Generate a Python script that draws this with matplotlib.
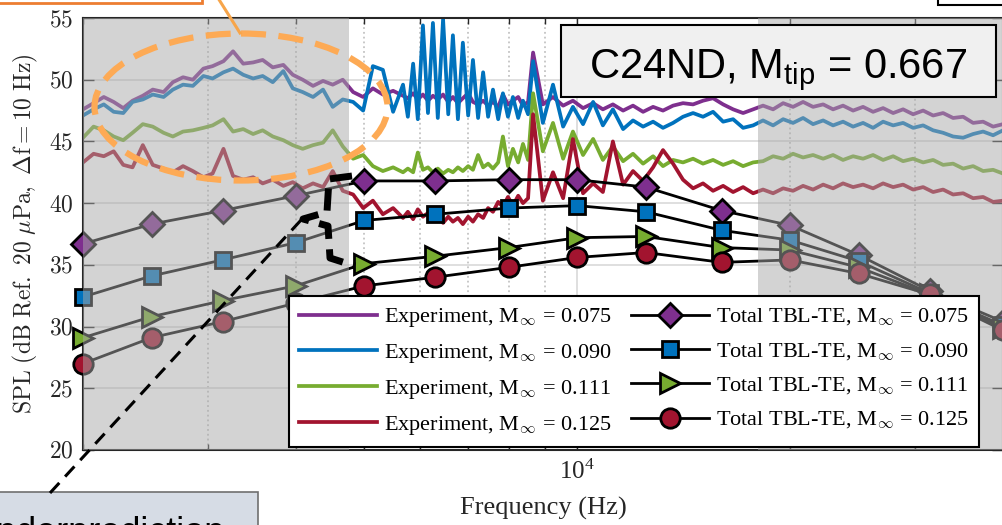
import matplotlib.pyplot as plt
from matplotlib.patches import Rectangle, Ellipse
from matplotlib.ticker import FuncFormatter, LogLocator, NullFormatter

plt.rcParams['font.family'] = ['Liberation Serif', 'DejaVu Serif']
plt.rcParams['mathtext.fontset'] = 'cm'
plt.rcParams['mathtext.rm'] = 'Liberation Sans'
plt.rcParams['mathtext.it'] = 'Liberation Sans:italic'

# measured narrowband spectra (levels in dB)
freq_hz = [2000, 2070, 2140, 2210, 2280, 2350, 2430, 2510, 2600, 2680, 2770, 2860, 2960, 3050,
           3160, 3260, 3370, 3480, 3590, 3710, 3840, 3960, 4090, 4230, 4370, 4510, 4660, 4820,
           4980, 5140, 5310, 5490, 5670,
           5760, 5860, 5950, 6050, 6150, 6250, 6350, 6460, 6570, 6670, 6780, 6890, 7010, 7120,
           7240, 7360, 7480, 7600, 7730, 7850, 7980, 8110, 8250, 8380, 8520, 8660,
           8940, 9240, 9550, 9860, 10190, 10530, 10870, 11230, 11610, 11990, 12390, 12800, 13220,
           13660, 14110, 14580, 15060, 15560, 16080, 16610, 17160, 17730, 18310, 18920, 19550,
           20190, 20860, 21550, 22270, 23000, 23760, 24550, 25360, 26200, 27070, 27970, 28890,
           29850, 30840, 31860, 32910, 34000, 35130, 36290, 37490, 38730, 40000]

exp_075 = [47.6, 48.1, 48.6, 48.2, 47.7, 48.3, 48.7, 49.2, 49.0, 49.8, 50.2, 50.0, 50.9, 51.1,
           51.5, 52.3, 51.3, 51.4, 51.6, 51.0, 51.2, 50.4, 50.0, 49.5, 49.9, 49.6, 50.0, 49.0,
           48.6, 49.3, 48.8, 49.1, 48.7,
           48.5, 48.9, 48.4, 48.8, 48.3, 48.7, 48.4, 48.8, 48.2, 48.6, 48.1, 48.5, 48.9, 48.2,
           48.0, 48.3, 47.9, 48.2, 47.8, 48.8, 48.0, 48.3, 48.6, 47.9, 48.2, 52.2,
           48.0, 48.6, 47.9, 48.3, 47.7, 48.1, 47.6, 48.0, 47.5, 47.9, 47.4, 47.8, 47.5, 47.9,
           48.1, 48.0, 48.3, 48.5, 48.0, 47.6, 47.3, 47.6,
           47.9, 47.6, 48.1, 47.8, 48.2, 47.8, 48.0, 47.6, 47.9, 47.5, 47.8, 47.4, 47.7, 47.3,
           47.6, 47.2, 47.5, 47.1, 47.3, 46.9, 47.0, 46.5, 46.6, 46.2, 46.4]
exp_090 = [47.1, 47.6, 48.0, 47.4, 47.3, 48.2, 48.4, 48.8, 48.6, 49.2, 49.6, 49.5, 50.3, 50.1,
           50.6, 50.9, 50.4, 50.1, 50.3, 49.8, 50.7, 49.3, 49.0, 48.6, 49.2, 47.8, 48.4, 48.2,
           47.5, 51.1, 50.8, 47.4, 49.6,
           47.0, 51.3, 46.8, 54.4, 47.3, 54.6, 46.9, 54.9, 47.2, 53.6, 46.8, 53.0, 47.1, 51.6,
           46.9, 50.6, 47.0, 49.2, 46.8, 48.9, 47.0, 48.6, 46.9, 48.3, 47.2, 51.5,
           46.5, 49.6, 46.2, 47.8, 46.4, 48.2, 46.3, 47.6, 46.0, 46.7, 46.2, 46.6, 46.1, 46.5,
           47.0, 47.3, 47.0, 47.4, 46.6, 46.8, 46.1, 46.3,
           46.7, 46.3, 46.8, 46.5, 46.9, 46.4, 46.7, 46.3, 46.6, 46.2, 46.5, 46.1, 46.6, 46.3,
           46.5, 46.1, 46.3, 45.9, 45.7, 45.4, 45.3, 45.6, 45.8, 45.5, 45.9]
exp_111 = [45.3, 46.2, 45.9, 45.4, 45.1, 45.7, 46.4, 46.2, 45.7, 45.4, 45.8, 45.9, 46.1, 46.3,
           46.8, 45.8, 46.0, 45.6, 45.9, 45.4, 45.1, 44.7, 44.4, 44.7, 44.9, 45.9, 44.6, 43.6,
           43.9, 43.0, 42.6, 42.9, 42.5,
           42.8, 42.5, 44.1, 42.7, 42.9, 42.5, 42.8, 42.4, 42.7, 42.5, 42.9, 42.6, 43.0, 42.7,
           43.9, 42.9, 43.2, 42.8, 43.3, 45.4, 43.0, 44.4, 43.3, 44.8, 43.5, 48.9,
           44.2, 46.5, 43.6, 45.8, 43.9, 45.2, 43.5, 44.6, 43.4, 44.0, 43.2, 43.8, 43.0, 43.5,
           43.3, 43.6, 43.2, 43.5, 43.1, 43.4, 43.0, 43.3,
           43.4, 43.8, 43.6, 44.0, 43.7, 43.9, 43.6, 43.9, 43.5, 43.8, 43.6, 43.9, 43.5, 43.8,
           43.4, 43.6, 43.3, 43.5, 43.1, 43.2, 42.8, 43.0, 42.6, 42.7, 42.4]
exp_125 = [43.3, 44.0, 43.8, 44.2, 43.1, 42.9, 44.7, 43.1, 42.8, 42.5, 43.0, 42.6, 42.1, 42.4,
           44.4, 42.2, 41.9, 42.1, 41.6, 41.9, 41.4, 41.7, 41.2, 41.6, 41.3, 42.6, 41.0, 40.7,
           39.6, 40.2, 39.1, 39.6, 38.8,
           39.3, 38.7, 39.5, 38.9, 39.2, 38.6, 39.0, 38.4, 38.9, 38.5, 38.8, 38.3, 38.9, 38.5,
           39.1, 38.8, 39.6, 39.3, 40.1, 39.7, 40.5, 39.8, 40.6, 40.0, 40.4, 47.2,
           40.2, 42.5, 40.4, 45.2, 40.8, 41.6, 40.9, 45.0, 41.5, 42.6, 41.8, 42.9, 44.3, 43.2,
           41.9, 41.2, 41.6, 41.0, 41.4, 40.9, 41.3, 40.8,
           41.1, 40.8, 41.2, 41.0, 41.4, 41.1, 41.5, 41.2, 41.6, 41.3, 41.5, 41.2, 41.6, 41.3,
           41.5, 41.1, 41.3, 40.9, 41.1, 40.7, 40.8, 40.4, 40.5, 40.1, 40.2]

# 1/3-octave TBL-TE predictions
band_hz = [2000, 2500, 3150, 4000, 5000, 6300, 8000, 10000, 12500, 16000, 20000, 25000, 31500, 40000]
tbl_075 = [36.7, 38.3, 39.4, 40.6, 41.8, 41.8, 41.9, 41.9, 41.3, 39.4, 38.2, 35.8, 32.9, 30.4]
tbl_090 = [32.4, 34.1, 35.4, 36.8, 38.6, 39.1, 39.6, 39.8, 39.3, 37.8, 37.0, 35.3, 32.7, 30.1]
tbl_111 = [29.1, 30.8, 32.1, 33.3, 35.1, 35.7, 36.4, 37.2, 37.3, 36.4, 36.2, 34.8, 32.6, 29.9]
tbl_125 = [27.0, 29.1, 30.4, 31.9, 33.3, 34.0, 34.8, 35.6, 36.0, 35.2, 35.4, 34.3, 32.6, 29.7]

mach = ['0.075', '0.090', '0.111', '0.125']
colors = ['#7E2F8E', '#0072BD', '#77AC30', '#A2142F']
markers = ['D', 's', '>', 'o']
msizes = [12, 11, 15, 14]
exp_levels = [exp_075, exp_090, exp_111, exp_125]
tbl_levels = [tbl_075, tbl_090, tbl_111, tbl_125]

# frequency ranges outside the valid band
shade_ranges = [(2000, 4750), (18000, 40000)]

W, H = 1002, 525
fig = plt.figure(figsize=(W / 100, H / 100), dpi=100)
ax = fig.add_axes([83 / W, 75 / H, 920 / W, 432 / H])
ink = '#262626'

exp_lines = []
for lev, c, m in zip(exp_levels, colors, mach):
    ln, = ax.plot(freq_hz, lev, color=c, lw=2.7, zorder=2,
                  label=r'Experiment, M$_{\infty}$ = ' + m)
    exp_lines.append(ln)

tbl_lines = []
for lev, c, mk, ms, m in zip(tbl_levels, colors, markers, msizes, mach):
    ln, = ax.plot(band_hz, lev, color='black', lw=2, marker=mk, ms=ms, mfc=c, mec='black',
                  mew=2, zorder=3, clip_on=False,
                  label=r'Total TBL-TE, M$_{\infty}$ = ' + m)
    tbl_lines.append(ln)

for lo, hi in shade_ranges:
    ax.axvspan(lo, hi, color='#a8a8a8', alpha=0.5, lw=0, zorder=5)

ax.set_xscale('log')
ax.set_xlim(2000, 40000)
ax.set_ylim(20, 55)
ax.set_yticks(range(20, 56, 5))
ax.yaxis.set_major_formatter(FuncFormatter(lambda v, p: f'${v:.0f}$'))
ax.xaxis.set_major_locator(LogLocator(base=10))
ax.xaxis.set_minor_locator(LogLocator(base=10, subs=range(2, 10)))
ax.xaxis.set_minor_formatter(NullFormatter())

ax.set_axisbelow(True)
ax.grid(True, which='major', color='#d9d9d9', lw=1.2)
ax.grid(True, which='minor', axis='x', color='#c4c4c4', ls=':', lw=1.3)
ax.tick_params(which='both', direction='in', top=True, right=True, color=ink, width=1)
ax.tick_params(which='major', length=8)
ax.tick_params(which='minor', length=4)
ax.tick_params(axis='y', labelsize=17, labelcolor=ink, pad=7)
ax.tick_params(axis='x', labelsize=18, labelcolor=ink, pad=7)
for s in ax.spines.values():
    s.set_color(ink)
    s.set_linewidth(1.5)

ax.set_xlabel('Frequency (Hz)', fontsize=19, color=ink, labelpad=9)
ax.set_ylabel(r'$\mathrm{SPL\ (dB\ Ref.\ 20\ }\mu\mathrm{Pa,\ }\Delta\mathrm{f = 10\ Hz)}$',
              fontsize=17, color=ink, labelpad=6)

leg = ax.legend(handles=exp_lines + tbl_lines, ncol=2, loc='lower right',
                bbox_to_anchor=(979 / W, (H - 447) / H), bbox_transform=fig.transFigure,
                fontsize=16, fancybox=False, edgecolor='black', framealpha=1,
                borderaxespad=0, borderpad=0.45, handlelength=3.55, handletextpad=0.3,
                columnspacing=0.85, labelspacing=0.58)
leg.get_frame().set_linewidth(1.5)
leg.set_zorder(10)

# annotation layer in pixel coordinates
ov = fig.add_axes([0, 0, 1, 1], zorder=20)
ov.set_xlim(0, W)
ov.set_ylim(H, 0)
ov.axis('off')

ov.add_patch(Rectangle((561, 25), 435, 72, fc='#f0f0f0', ec='black', lw=1.5))
ov.text(778, 78, r'C24ND, M$_{\mathrm{tip}}$ = 0.667', fontsize=30, family='Liberation Sans',
        math_fontfamily='custom', ha='center', va='baseline')

ov.add_patch(Rectangle((-10, -40), 212, 43, fc='white', ec='#ED7D31', lw=2))
ov.plot([218, 240], [-2, 33], color='#F7A54A', lw=2.2)
ov.add_patch(Ellipse((241, 107), 293, 147, fill=False, ec='#FDAA55', lw=4.5,
                     ls=(0, (4, 2))))
ov.add_patch(Rectangle((938, -40), 100, 45, fc='white', ec='black', lw=1.5))

ov.add_patch(Rectangle((-5, 492), 263, 60, fc='#D6DCE5', ec='#6f6f6f', lw=1.2))
ov.text(-30, 543, 'Underprediction', fontsize=26, family='Liberation Sans',
        ha='left', va='baseline')
ov.plot([50, 302], [493, 219], color='black', lw=2.2, ls=(0, (4.5, 2.8)))
ov.plot([352, 329, 327, 303, 328, 330, 355], [176, 179, 212, 219, 226, 258, 266],
        color='black', lw=5, ls=(0, (3.2, 1.5)), solid_capstyle='butt')

fig.savefig('out.png', dpi=100)
